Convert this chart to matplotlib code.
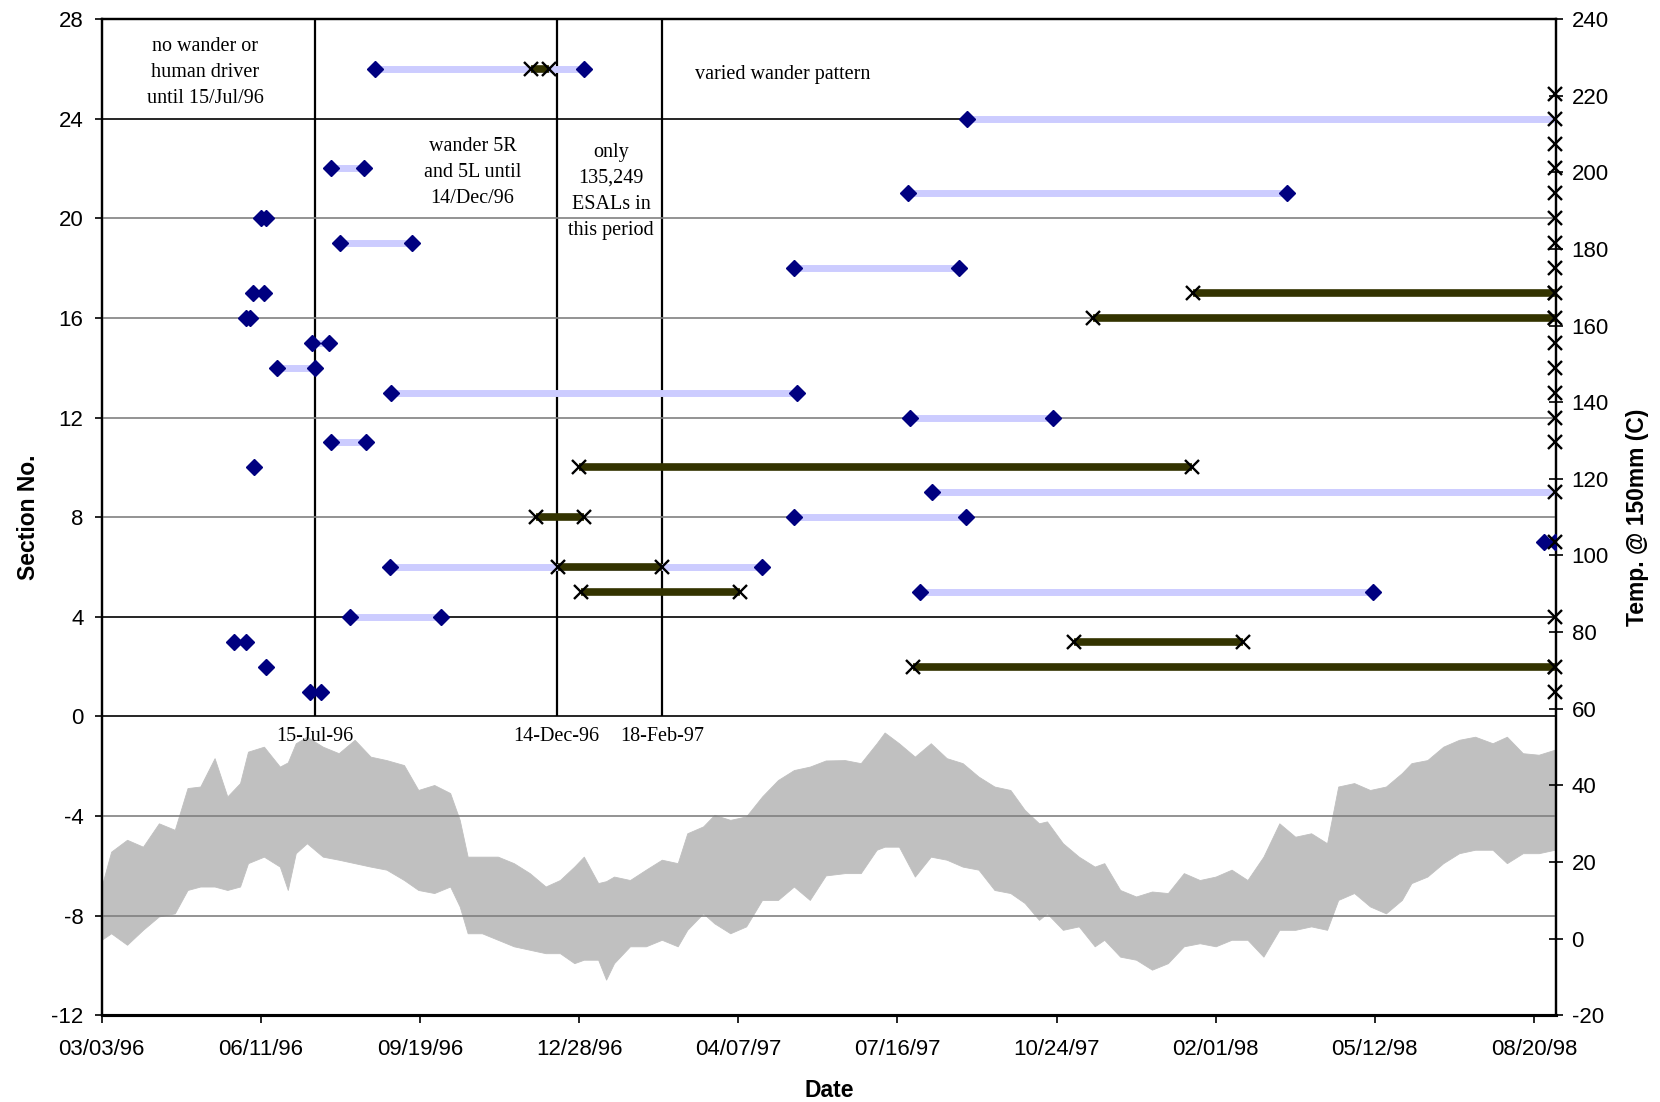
import numpy as np
import matplotlib
matplotlib.use('Agg')
import matplotlib.pyplot as plt
import matplotlib.dates as mdates

plt.rcParams['font.family'] = ['Liberation Sans', 'DejaVu Sans']
plt.rcParams['axes.unicode_minus'] = False
SERIF = ['Liberation Serif', 'DejaVu Serif']

# axis setup
x_min = '1996-03-03'
x_max = '1998-09-03'
tick_dates = ['1996-03-03', '1996-06-11', '1996-09-19', '1996-12-28', '1997-04-07',
              '1997-07-16', '1997-10-24', '1998-02-01', '1998-05-12', '1998-08-20']
section_ticks = [-12, -8, -4, 0, 4, 8, 12, 16, 20, 24, 28]
temp_ticks = [-20, 0, 20, 40, 60, 80, 100, 120, 140, 160, 180, 200, 220, 240]

# lavender bars (section, start, end)
lav_sec = [26, 24, 22, 21, 19, 18, 15, 14, 13, 12, 11, 9, 8, 7, 6, 5, 4]
lav_start = ['1996-08-22', '1997-08-29', '1996-07-25', '1997-07-23', '1996-07-31',
             '1997-05-12', '1996-07-13', '1996-06-21', '1996-09-01', '1997-07-24',
             '1996-07-25', '1997-08-07', '1997-05-12', '1998-08-26', '1996-08-31',
             '1997-07-30', '1996-08-06']
lav_end = ['1996-12-31', '1998-09-02', '1996-08-15', '1998-03-18', '1996-09-14',
           '1997-08-24', '1996-07-24', '1996-07-15', '1997-05-14', '1997-10-22',
           '1996-08-16', '1998-09-02', '1997-08-28', '1998-09-02', '1997-04-22',
           '1998-05-11', '1996-10-02']

# blue diamonds
dia_sec = [26, 26, 24, 22, 22, 21, 21, 20, 20, 19, 19, 18, 18, 17, 17, 16, 16,
           15, 15, 14, 14, 13, 13, 12, 12, 11, 11, 10, 9, 8, 8, 7, 7, 6, 6,
           5, 5, 4, 4, 3, 3, 2, 1, 1]
dia_date = ['1996-08-22', '1996-12-31', '1997-08-29', '1996-07-25', '1996-08-15',
            '1997-07-23', '1998-03-18', '1996-06-11', '1996-06-14', '1996-07-31',
            '1996-09-14', '1997-05-12', '1997-08-24', '1996-06-06', '1996-06-13',
            '1996-06-02', '1996-06-04', '1996-07-13', '1996-07-24', '1996-06-21',
            '1996-07-15', '1996-09-01', '1997-05-14', '1997-07-24', '1997-10-22',
            '1996-07-25', '1996-08-16', '1996-06-07', '1997-08-07', '1997-05-12',
            '1997-08-28', '1998-08-26', '1998-09-02', '1996-08-31', '1997-04-22',
            '1997-07-30', '1998-05-11', '1996-08-06', '1996-10-02', '1996-05-25',
            '1996-06-02', '1996-06-14', '1996-07-12', '1996-07-19']

# olive bars with x markers
olv_sec = [26, 17, 16, 10, 8, 6, 5, 3, 2]
olv_start = ['1996-11-28', '1998-01-18', '1997-11-16', '1996-12-28', '1996-12-01',
             '1996-12-15', '1996-12-29', '1997-11-04', '1997-07-26']
olv_end = ['1996-12-09', '1998-09-02', '1998-09-02', '1998-01-17', '1996-12-31',
           '1997-02-18', '1997-04-08', '1998-02-18', '1998-09-02']

# x markers on the last date
end_date = '1998-09-02'
end_sec = [1, 2, 4, 7, 9, 11, 12, 13, 14, 15, 16, 17, 18, 19, 20, 21, 22, 23, 24, 25]

# event lines
event_dates = ['1996-07-15', '1996-12-14', '1997-02-18']
event_labels = ['15-Jul-96', '14-Dec-96', '18-Feb-97']

# temperature envelope, days after 03/03/96
temp_day = [0, 6, 16, 26, 36, 46, 54, 62, 71, 79,
            87, 92, 102, 112, 117, 122, 129, 139, 149, 159,
            169, 179, 190, 199, 209, 219, 225, 230, 239, 249,
            259, 269, 279, 288, 297, 303, 312, 317, 322, 332,
            342, 352, 362, 368, 378, 385, 395, 405, 415, 425,
            435, 445, 455, 467, 477, 487, 492, 501, 511, 521,
            531, 541, 551, 561, 571, 580, 589, 594, 604, 614,
            624, 630, 640, 650, 660, 670, 680, 690, 700, 710,
            720, 730, 740, 750, 760, 770, 777, 787, 797, 807,
            817, 823, 833, 843, 853, 863, 874, 883, 893, 903,
            913]
temp_hi = [13.6, 22.7, 25.8, 24.0, 30.1, 28.4, 39.3, 39.7, 47.1, 37.1,
           40.6, 48.8, 50.1, 44.9, 46.0, 51.0, 52.7, 50.1, 48.4, 51.9,
           47.5, 46.6, 45.3, 38.8, 40.1, 38.0, 31.0, 21.4, 21.4, 21.4,
           19.7, 17.1, 13.6, 15.3, 18.8, 21.4, 14.5, 15.0, 16.2, 15.3,
           18.0, 20.6, 19.7, 27.5, 29.3, 32.3, 31.0, 31.9, 37.1, 41.4,
           44.0, 44.9, 46.5, 46.6, 45.8, 51.0, 53.8, 51.0, 47.5, 51.0,
           47.1, 45.8, 42.3, 39.7, 38.8, 33.6, 30.1, 30.6, 24.9, 21.4,
           18.8, 19.7, 12.7, 11.0, 12.3, 11.9, 17.1, 15.3, 16.2, 18.0,
           15.3, 21.4, 30.1, 26.6, 27.5, 24.9, 39.7, 40.6, 38.8, 39.7,
           43.2, 45.8, 46.6, 50.1, 51.9, 52.7, 51.0, 52.7, 48.4, 48.0,
           49.3]
temp_lo = [-0.3, 1.4, -1.6, 2.3, 5.8, 6.6, 12.7, 13.6, 13.6, 12.7,
           13.6, 19.7, 21.4, 18.8, 12.7, 22.3, 24.9, 21.4, 20.6, 19.7,
           18.8, 18.0, 15.3, 12.7, 11.9, 13.6, 8.4, 1.4, 1.4, -0.3,
           -2.0, -2.9, -3.8, -3.8, -6.4, -5.5, -5.5, -10.7, -6.4, -2.0,
           -2.0, -0.3, -2.0, 2.3, 6.6, 4.0, 1.4, 3.2, 10.1, 10.1,
           13.6, 10.1, 16.5, 17.1, 17.1, 23.2, 24.0, 24.0, 16.2, 21.4,
           20.6, 18.8, 18.0, 12.7, 11.9, 9.3, 4.9, 6.6, 2.3, 3.2,
           -2.0, -0.3, -4.7, -5.5, -8.1, -6.4, -2.0, -1.2, -2.0, -0.3,
           -0.3, -4.7, 2.3, 2.3, 3.2, 2.3, 10.1, 11.9, 8.4, 6.6,
           10.1, 14.5, 16.2, 19.7, 22.3, 23.2, 23.2, 19.7, 22.3, 22.3,
           23.2]


def d(s):
    return mdates.datestr2num(s)


fig = plt.figure(figsize=(16.6, 11.02), dpi=100)
ax = fig.add_axes([0.0612, 0.0787, 0.8763, 0.9040])
ax2 = ax.twinx()
ax.set_zorder(ax2.get_zorder() + 1)
ax.patch.set_visible(False)

# temperature band on the right axis
temp_x = d(x_min) + np.array(temp_day)
ax2.fill_between(temp_x, temp_lo, temp_hi, color='#c0c0c0', lw=0.6, edgecolor='#c0c0c0')
ax2.set_ylim(-20, 240)
ax2.set_yticks(temp_ticks)

# section bars
ax.hlines(lav_sec, d(lav_start), d(lav_end), color='#ccccff', lw=5, zorder=2)
ax.hlines(olv_sec, d(olv_start), d(olv_end), color='#333300', lw=5.5, zorder=3)
ax.plot(d(dia_date), dia_sec, 'D', color='#000080', ms=8.5, zorder=4, ls='none')
ax.plot(d(olv_start), olv_sec, 'x', color='black', ms=9.5, mew=1.7, zorder=5, ls='none')
ax.plot(d(olv_end), olv_sec, 'x', color='black', ms=9.5, mew=1.7, zorder=5, ls='none')
ax.plot([d(end_date)] * len(end_sec), end_sec, 'x', color='black', ms=9.5, mew=1.7,
        zorder=5, ls='none', clip_on=False)

ax.vlines(d(event_dates), 0, 28, color='black', lw=1.6, zorder=1.5)
for dt, lab in zip(event_dates, event_labels):
    ax.text(d(dt), -0.8, lab, ha='center', va='center', family=SERIF, fontsize=14.5)

ax.text(d('1996-05-07'), 25.87, 'no wander or\nhuman driver\nuntil 15/Jul/96',
        ha='center', va='center', family=SERIF, fontsize=14.5, linespacing=1.5)
ax.text(d('1996-10-22'), 21.84, 'wander 5R\nand 5L until\n14/Dec/96',
        ha='center', va='center', family=SERIF, fontsize=14.5, linespacing=1.5)
ax.text(d('1997-01-17'), 21.09, 'only\n135,249\nESALs in\nthis period',
        ha='center', va='center', family=SERIF, fontsize=14.5, linespacing=1.5)
ax.text(d('1997-03-11'), 25.79, 'varied wander pattern',
        ha='left', va='center', family=SERIF, fontsize=14.5)

ax.set_xlim(d(x_min), d(x_max))
ax.set_ylim(-12, 28)
ax.set_yticks(section_ticks)
ax.set_xticks(d(tick_dates))
ax.xaxis.set_major_formatter(mdates.DateFormatter('%m/%d/%y'))

ax.grid(axis='y', color='#808080', lw=1.2, zorder=1)
for gl, v in zip(ax.get_ygridlines(), section_ticks):
    if v in (24, 4, 0):
        gl.set_color('black')

ax.tick_params(axis='y', direction='out', length=5, width=1.2, labelsize=16, pad=8)
ax.tick_params(axis='x', direction='out', length=6, width=1.2, labelsize=16, pad=11)
ax2.tick_params(axis='y', direction='inout', length=10, width=1.2, labelsize=16, pad=6)

for a in (ax, ax2):
    a.spines['top'].set_linewidth(1.6)
    a.spines['bottom'].set_linewidth(2.2)
    a.spines['left'].set_linewidth(1.6)
    a.spines['right'].set_linewidth(1.6)

ax.set_ylabel('Section No.', fontsize=16.5, fontweight='bold')
ax.yaxis.set_label_coords(-0.042, 0.5)
ax2.set_ylabel('Temp. @ 150mm (C)', fontsize=16.5, fontweight='bold')
ax2.yaxis.set_label_coords(1.048, 0.5)
ax.set_xlabel('Date', fontsize=16.5, fontweight='bold')
ax.xaxis.set_label_coords(0.5, -0.064)

fig.savefig('out.png', dpi=100)
